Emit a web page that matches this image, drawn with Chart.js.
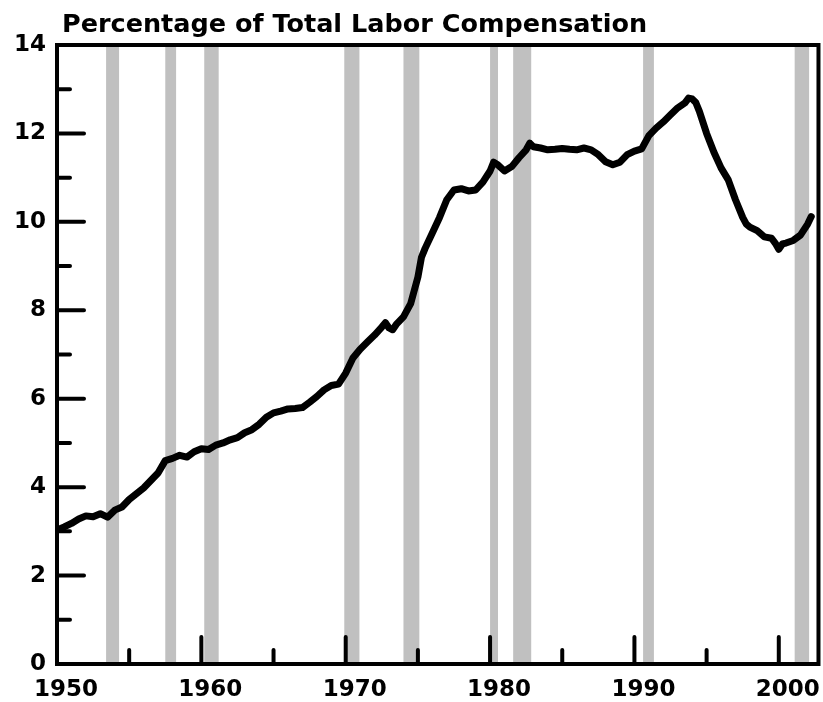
<!DOCTYPE html>
<html>
<head>
<meta charset="utf-8">
<script src="https://cdn.jsdelivr.net/npm/chart.js@4.4.0/dist/chart.umd.min.js"></script>
<style>
html,body{margin:0;padding:0;background:#fff;}
#wrap{width:823px;height:702px;position:relative;}
</style>
</head>
<body>
<div id="wrap"><canvas id="c" width="823" height="702"></canvas></div>
<script>
// ---- data ----
const chartTitle = 'Percentage of Total Labor Compensation';

const years = [
  1950.0,1950.5,1951.0,1951.5,1952.0,1952.5,1953.0,1953.5,1954.0,1954.5,
  1955.0,1955.5,1956.0,1956.5,1957.0,1957.5,1958.0,1958.5,1959.0,1959.5,
  1960.0,1960.5,1961.0,1961.5,1962.0,1962.5,1963.0,1963.5,1964.0,1964.5,
  1965.0,1965.5,1966.0,1966.5,1967.0,1967.5,1968.0,1968.5,1969.0,1969.5,
  1970.0,1970.5,1971.0,1971.5,1972.0,1972.5,1972.75,1973.0,1973.25,1973.5,
  1974.0,1974.5,1975.0,1975.25,1975.5,1976.0,1976.5,1977.0,1977.5,1978.0,
  1978.5,1979.0,1979.5,1980.0,1980.25,1980.5,1981.0,1981.5,1982.0,1982.5,
  1982.75,1983.0,1983.5,1984.0,1984.5,1985.0,1985.5,1986.0,1986.5,1987.0,
  1987.5,1988.0,1988.5,1989.0,1989.5,1990.0,1990.5,1991.0,1991.5,1992.0,
  1992.5,1993.0,1993.5,1993.75,1994.0,1994.25,1994.5,1995.0,1995.5,1996.0,
  1996.5,1997.0,1997.5,1997.75,1998.0,1998.5,1999.0,1999.5,1999.75,2000.0,
  2000.25,2000.5,2001.0,2001.5,2002.0,2002.25
];
const shares = [
  3.03,3.10,3.18,3.28,3.35,3.33,3.40,3.32,3.48,3.55,
  3.72,3.85,3.98,4.15,4.32,4.60,4.65,4.72,4.68,4.80,
  4.87,4.85,4.95,5.00,5.07,5.12,5.23,5.30,5.42,5.58,
  5.68,5.72,5.77,5.78,5.80,5.92,6.05,6.20,6.30,6.33,
  6.58,6.92,7.12,7.28,7.44,7.62,7.72,7.60,7.56,7.68,
  7.85,8.15,8.75,9.20,9.40,9.75,10.10,10.50,10.72,10.75,
  10.70,10.72,10.90,11.15,11.35,11.30,11.15,11.25,11.45,11.63,
  11.78,11.70,11.67,11.63,11.64,11.66,11.64,11.63,11.67,11.63,
  11.52,11.36,11.29,11.35,11.52,11.60,11.65,11.95,12.12,12.26,
  12.42,12.58,12.69,12.80,12.78,12.70,12.50,12.00,11.58,11.22,
  10.95,10.50,10.10,9.95,9.88,9.80,9.66,9.63,9.52,9.38,
  9.50,9.52,9.58,9.70,9.95,10.12
];

// recession periods (shaded)
const recessionStarts = [1953.4, 1957.5, 1960.2, 1969.9, 1974.0, 1980.0, 1981.6, 1990.6, 2001.1];
const recessionEnds   = [1954.3, 1958.25, 1961.2, 1970.95, 1975.1, 1980.55, 1982.85, 1991.35, 2002.1];

const xLabelYears = [1950, 1960, 1970, 1980, 1990, 2000];
const yLabelValues = [0, 2, 4, 6, 8, 10, 12, 14];

// ---- styling ----
const FONT = '"DejaVu Sans", "Liberation Sans", Arial, sans-serif';
const LEFT = 57, TOP = 45, RIGHT_PAD = 4, XAXIS_H = 38;

const recessionPlugin = {
  id: 'recessions',
  beforeDraw(chart) {
    const {ctx, chartArea, scales: {x}} = chart;
    ctx.save();
    ctx.fillStyle = '#c0c0c0';
    for (let i = 0; i < recessionStarts.length; i++) {
      const x1 = x.getPixelForValue(recessionStarts[i]);
      const x2 = x.getPixelForValue(recessionEnds[i]);
      ctx.fillRect(x1, chartArea.top, x2 - x1, chartArea.bottom - chartArea.top);
    }
    ctx.restore();
  }
};

const framePlugin = {
  id: 'frame',
  afterDatasetsDraw(chart) {
    const {ctx, chartArea: a, scales: {x, y}} = chart;
    ctx.save();
    ctx.strokeStyle = '#000';
    ctx.lineWidth = 4;
    // top and right frame
    ctx.lineCap = 'square';
    ctx.beginPath();
    ctx.moveTo(a.left, a.top); ctx.lineTo(a.right, a.top); ctx.lineTo(a.right, a.bottom);
    ctx.stroke();
    // inward ticks
    ctx.lineCap = 'round';
    ctx.beginPath();
    for (let v = 1; v < 14; v++) {
      const py = y.getPixelForValue(v);
      const len = (v % 2 === 0) ? 27 : 13;
      ctx.moveTo(a.left, py); ctx.lineTo(a.left + len, py);
    }
    for (let yr = 1955; yr < 2002; yr += 5) {
      const px = x.getPixelForValue(yr);
      const len = (yr % 10 === 0) ? 27 : 14;
      ctx.moveTo(px, a.bottom); ctx.lineTo(px, a.bottom - len);
    }
    ctx.stroke();
    ctx.restore();
  },
  afterDraw(chart) {
    const {ctx} = chart;
    ctx.save();
    ctx.fillStyle = '#000';
    ctx.font = 'bold 25.5px ' + FONT;
    ctx.textBaseline = 'alphabetic';
    ctx.textAlign = 'left';
    ctx.fillText(chartTitle, 62, 32);
    ctx.restore();
  }
};

new Chart(document.getElementById('c'), {
  type: 'line',
  data: {
    datasets: [{
      data: years.map((yr, i) => ({x: yr, y: shares[i]})),
      borderColor: '#000',
      borderWidth: 7,
      pointRadius: 0,
      tension: 0,
      fill: false,
      borderJoinStyle: 'round',
      borderCapStyle: 'round'
    }]
  },
  options: {
    responsive: false,
    animation: false,
    devicePixelRatio: 1,
    layout: {padding: {left: 0, top: TOP, right: RIGHT_PAD, bottom: 0}},
    plugins: {legend: {display: false}, tooltip: {enabled: false}, title: {display: false}},
    scales: {
      x: {
        type: 'linear',
        min: 1950,
        max: 2002.75,
        afterFit(s) { s.height = XAXIS_H; },
        afterBuildTicks(s) { s.ticks = xLabelYears.map(v => ({value: v})); },
        ticks: {
          color: '#000',
          font: {family: FONT, size: 23, weight: 'bold'},
          padding: 12,
          labelOffset: 9,
          maxRotation: 0,
          autoSkip: false,
          callback: v => String(v)
        },
        grid: {display: true, drawOnChartArea: false, drawTicks: false, color: 'rgba(0,0,0,0)'},
        border: {display: true, color: '#000', width: 4}
      },
      y: {
        type: 'linear',
        min: 0,
        max: 14,
        afterFit(s) { s.width = LEFT; },
        afterBuildTicks(s) { s.ticks = yLabelValues.map(v => ({value: v})); },
        ticks: {
          color: '#000',
          font: {family: FONT, size: 23, weight: 'bold'},
          padding: 11,
          callback: v => String(v)
        },
        grid: {display: true, drawOnChartArea: false, drawTicks: false, color: 'rgba(0,0,0,0)'},
        border: {display: true, color: '#000', width: 4}
      }
    }
  },
  plugins: [recessionPlugin, framePlugin]
});
</script>
</body>
</html>
